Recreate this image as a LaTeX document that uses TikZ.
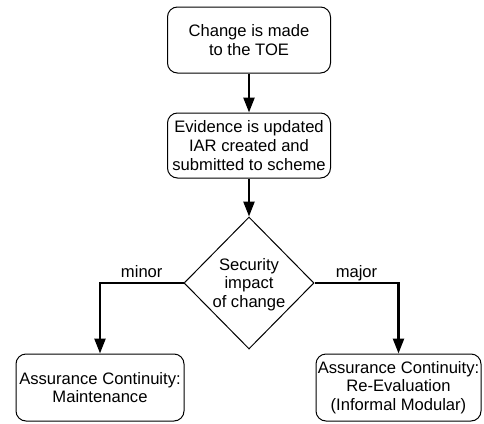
\documentclass[tikz,border=0pt]{standalone}
\usepackage{fontspec}
\setmainfont{Liberation Sans}
\usetikzlibrary{shapes.geometric,arrows.meta}
\begin{document}
\begin{tikzpicture}[x=1pt,y=-1pt,
  txt/.style={font=\fontsize{16.6}{18.6}\selectfont},
  box/.style={txt, draw, rounded corners=10pt, line width=1pt, align=center, inner sep=0pt},
  decision/.style={diamond, draw, line width=1pt, inner sep=0pt, minimum width=130pt, minimum height=132pt},
  flow/.style={line width=2.4pt, -{Triangle[length=15pt,width=11pt]}},
  lbl/.style={txt, above, inner sep=4pt, text depth=0pt}]
\useasboundingbox (0,0) rectangle (484,423);
\node[box, minimum width=163pt, minimum height=66pt] (toe) at (249,40) {Change is made\\to the TOE};
\node[box, minimum width=163pt, minimum height=65pt] (iar) at (249,145.5) {Evidence is updated\\IAR created and\\submitted to scheme};
\node[decision] (d) at (249,283) {};
\node[txt, align=center, inner sep=0pt] (dt) at (249,284.5) {Security\\impact\\of change};
\node[box, minimum width=168pt, minimum height=67pt] (lb) at (100,387.5) {Assurance Continuity:\\Maintenance};
\node[box, minimum width=165pt, minimum height=67pt] (rb) at (398.5,387.5) {Assurance Continuity:\\Re-Evaluation\\(Informal Modular)};
\draw[flow] (toe.south) -- (iar.north);
\draw[flow] (iar.south) -- (d.north);
\draw[flow] (d.west) -| node[lbl, pos=0.25] {minor} (lb.north);
\draw[flow] (d.east) -| node[lbl, pos=0.25] {major} (rb.north);
\end{tikzpicture}
\end{document}
